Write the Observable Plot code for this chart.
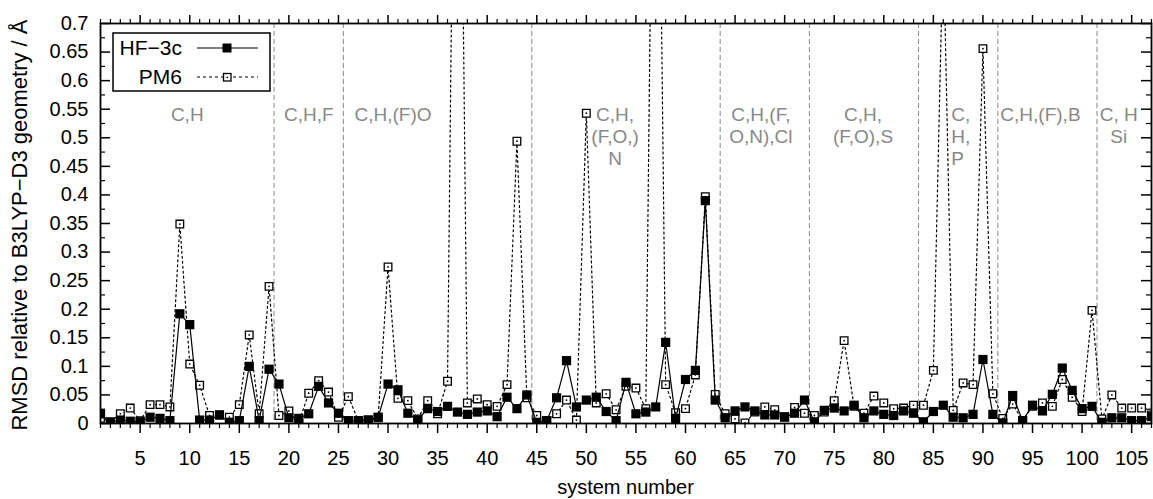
<!DOCTYPE html>
<html><head><meta charset="utf-8">
<script src="https://cdn.jsdelivr.net/npm/d3@7"></script>
<script src="https://cdn.jsdelivr.net/npm/@observablehq/plot@0.6"></script>
<style>
body{margin:0;background:#fff;}
#chart{width:1153px;height:499px;}
</style></head><body><div id="chart"></div>
<script>
// ---- data ----
const systems = d3.range(1, 108);
const hf3c = [0.017,0.002,0.006,0.004,0.003,0.011,0.009,0.005,0.192,0.173,
  0.006,0.006,0.015,0.002,0.005,0.100,0.005,0.095,0.069,0.010,
  0.009,0.017,0.065,0.036,0.018,0.005,0.005,0.006,0.011,0.069,
  0.059,0.018,0.006,0.026,0.021,0.030,0.020,0.016,0.020,0.022,
  0.012,0.046,0.026,0.050,0.002,0.005,0.045,0.110,0.029,0.041,
  0.046,0.021,0.005,0.072,0.017,0.020,0.029,0.142,0.009,0.077,
  0.093,0.390,0.041,0.010,0.022,0.029,0.022,0.015,0.015,0.011,
  0.018,0.041,0.003,0.023,0.027,0.022,0.032,0.010,0.022,0.016,
  0.014,0.022,0.018,0.003,0.021,0.032,0.011,0.010,0.016,0.112,
  0.016,0.001,0.049,0.005,0.032,0.022,0.051,0.097,0.058,0.026,
  0.030,0.002,0.010,0.010,0.005,0.005,0.012];
const pm6 = [0.009,0.003,0.017,0.027,0.005,0.033,0.033,0.029,0.349,0.104,
  0.067,0.014,0.015,0.011,0.033,0.155,0.017,0.240,0.014,0.022,
  0.002,0.053,0.075,0.055,0.011,0.047,0.005,0.006,0.010,0.274,
  0.044,0.040,0.008,0.040,0.017,0.074,1.700,0.036,0.043,0.033,
  0.030,0.068,0.494,0.045,0.014,0.005,0.017,0.041,0.006,0.543,
  0.036,0.052,0.024,0.065,0.062,0.026,1.600,0.068,0.019,0.026,
  0.085,0.397,0.051,0.017,0.008,0.001,0.020,0.029,0.024,0.012,
  0.028,0.018,0.014,0.020,0.040,0.145,0.030,0.018,0.048,0.036,
  0.026,0.027,0.032,0.032,0.093,0.850,0.023,0.071,0.068,0.656,
  0.052,0.009,0.034,0.005,0.030,0.036,0.030,0.077,0.046,0.021,
  0.198,0.008,0.050,0.027,0.027,0.027,0.015];
const separators = [18.5, 25.5, 44.5, 63.5, 72.5, 83.5, 91.5, 101.5];
const groupLabels = ["C,H", "C,H,F", "C,H,(F)O", "C,H,\n(F,O,)\nN", "C,H,(F,\nO,N),Cl",
  "C,H,\n(F,O),S", "C,\nH,\nP", "C,H,(F),B", "C, H\nSi"];
const groupX = [9.75, 22, 30.5, 52.9, 67.6, 77.9, 86.8, 95.8, 103.7];
const xTickValues = [5,10,15,20,25,30,35,40,45,50,55,60,65,70,75,80,85,90,95,100,105];
const yTickValues = [0,0.05,0.1,0.15,0.2,0.25,0.3,0.35,0.4,0.45,0.5,0.55,0.6,0.65,0.7];
const yTickLabels = ["0","0.05","0.1","0.15","0.2","0.25","0.3","0.35","0.4","0.45","0.5","0.55","0.6","0.65","0.7"];
const seriesNames = ["HF\u22123c", "PM6"];
const xTitle = "system number";
const yTitle = "RMSD relative to B3LYP\u2212D3 geometry / \u00C5";

// ---- build ----
const rows = systems.map((s, i) => ({s, hf: hf3c[i], pm: pm6[i]}));
const groups = groupLabels.map((t, i) => ({t, x: groupX[i], left: t.startsWith("C,\nH")}));
const minorX = d3.range(1, 108).filter(v => v % 5 !== 0);
const minorY = d3.range(0.025, 0.7, 0.05);
const W = 1153, H = 499, mL = 100, mR = 2, mT = 23, mB = 76;
const iW = W - mL - mR;
const FONT = "'Liberation Sans', Arial, sans-serif";

const plot = Plot.plot({
  width: W, height: H,
  marginLeft: mL, marginRight: mR, marginTop: mT, marginBottom: mB,
  style: {fontFamily: FONT, background: "#fff", color: "#000"},
  x: {domain: [1, 107]},
  y: {domain: [0, 0.7]},
  marks: [
    Plot.ruleX(separators, {x: d => d, stroke: "#999", strokeWidth: 1.2, strokeDasharray: "5,3"}),
    Plot.text(groups.filter(g => !g.left), {x: "x", y: () => 0.558, text: "t", fill: "#888", fontSize: 19, lineAnchor: "top", lineHeight: 1.18, textAnchor: "middle"}),
    Plot.text(groups.filter(g => g.left), {x: "x", y: () => 0.558, text: "t", fill: "#888", fontSize: 19, lineAnchor: "top", lineHeight: 1.18, textAnchor: "start"}),
    Plot.line(rows, {x: "s", y: "pm", stroke: "#000", strokeWidth: 1.2, strokeDasharray: "2,3", clip: true}),
    Plot.dot(rows, {x: "s", y: "pm", symbol: "square", r: 4.3, fill: "#fff", stroke: "none", clip: true}),
    Plot.line(rows, {x: "s", y: "hf", stroke: "#000", strokeWidth: 1.2, clip: true}),
    Plot.dot(rows, {x: "s", y: "hf", symbol: "square", r: 5.2, fill: "#000", stroke: "none", clip: true}),
    Plot.dot(rows, {x: "s", y: "pm", symbol: "square", r: 4.3, fill: "none", stroke: "#000", strokeWidth: 1.3, clip: true}),
    Plot.dot(rows, {x: "s", y: "pm", r: 0.9, fill: "#000", stroke: "none", clip: true}),
    Plot.axisX(xTickValues, {anchor: "bottom", tickSize: 10, tickPadding: 17, fontSize: 20, label: null, strokeWidth: 1.5}),
    Plot.axisX(minorX, {anchor: "bottom", tickSize: 5, tickFormat: () => "", label: null, strokeWidth: 1.2}),
    Plot.axisX(xTickValues, {anchor: "top", tickSize: 9, tickFormat: () => "", label: null, strokeWidth: 1.5}),
    Plot.axisX(minorX, {anchor: "top", tickSize: 5, tickFormat: () => "", label: null, strokeWidth: 1.2}),
    Plot.axisY(yTickValues, {anchor: "left", tickSize: 0, tickPadding: 12, fontSize: 20, label: null, tickFormat: d => yTickLabels[yTickValues.indexOf(d)]}),
    Plot.tickY(yTickValues, {y: d => d, insetRight: iW - 10, stroke: "#000", strokeWidth: 1.5}),
    Plot.tickY(minorY, {y: d => d, insetRight: iW - 5, stroke: "#000", strokeWidth: 1.2}),
    Plot.tickY(yTickValues, {y: d => d, insetLeft: iW - 10, stroke: "#000", strokeWidth: 1.5}),
    Plot.tickY(minorY, {y: d => d, insetLeft: iW - 5, stroke: "#000", strokeWidth: 1.2}),
    Plot.frame({stroke: "#000", strokeWidth: 1.8})
  ]
});
document.getElementById("chart").appendChild(plot);

// titles and legend
const svg = d3.select(plot);
svg.append("text").attr("x", mL + iW / 2).attr("y", 494).attr("text-anchor", "middle")
  .attr("font-family", FONT).attr("font-size", 20).attr("fill", "#000").text(xTitle);
svg.append("text").attr("transform", "translate(27,225) rotate(-90)").attr("text-anchor", "middle")
  .attr("font-family", FONT).attr("font-size", 22).attr("fill", "#000").text(yTitle);

const lg = svg.append("g");
lg.append("rect").attr("x", 113).attr("y", 33).attr("width", 157).attr("height", 58)
  .attr("fill", "#fff").attr("stroke", "#000").attr("stroke-width", 1.5);
[0, 1].forEach(i => {
  const cy = 48 + i * 29;
  lg.append("text").attr("x", 182).attr("y", cy).attr("dy", "0.35em").attr("text-anchor", "end")
    .attr("font-family", FONT).attr("font-size", 21).attr("fill", "#000").text(seriesNames[i]);
  lg.append("line").attr("x1", 197).attr("x2", 258).attr("y1", cy).attr("y2", cy)
    .attr("stroke", "#000").attr("stroke-width", 1.2).attr("stroke-dasharray", i ? "3,3" : null);
  if (i === 0) {
    lg.append("rect").attr("x", 222.5).attr("y", cy - 4.5).attr("width", 9).attr("height", 9).attr("fill", "#000");
  } else {
    lg.append("rect").attr("x", 223.5).attr("y", cy - 3.5).attr("width", 7.5).attr("height", 7.5)
      .attr("fill", "#fff").attr("stroke", "#000").attr("stroke-width", 1.3);
    lg.append("circle").attr("cx", 227.2).attr("cy", cy + 0.3).attr("r", 0.9).attr("fill", "#000");
  }
});
</script></body></html>
